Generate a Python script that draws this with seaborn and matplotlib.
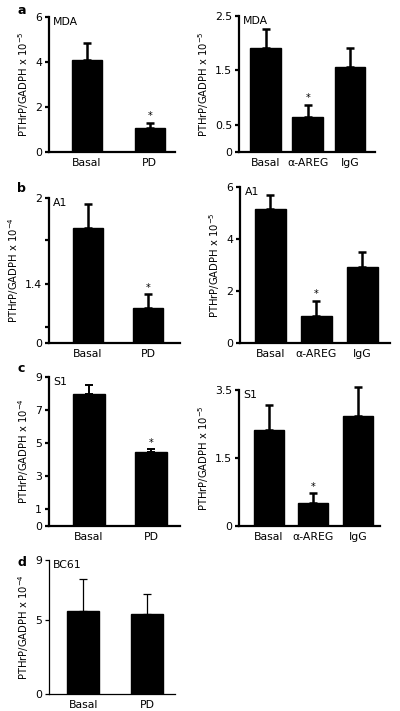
import numpy as np
import matplotlib
matplotlib.use("Agg")
import matplotlib.pyplot as plt
import seaborn as sns

sns.set_style("white")
plt.rcParams['font.family'] = ['DejaVu Sans']
plt.rcParams['mathtext.fontset'] = 'dejavusans'
for k in ['text.color', 'axes.labelcolor', 'xtick.color', 'ytick.color', 'axes.edgecolor']:
    plt.rcParams[k] = 'black'

# ---- data ----
a_left_cats = ["Basal", "PD"]
a_left_vals = [4.1, 1.05]
a_left_err = [0.75, 0.25]

a_right_cats = ["Basal", "α-AREG", "IgG"]
a_right_vals = [1.92, 0.65, 1.57]
a_right_err = [0.35, 0.22, 0.35]

b_left_cats = ["Basal", "PD"]
b_left_vals = [1.79, 0.83]
b_left_err = [0.17, 0.33]

b_right_cats = ["Basal", "α-AREG", "IgG"]
b_right_vals = [5.15, 1.05, 2.92]
b_right_err = [0.55, 0.57, 0.57]

c_left_cats = ["Basal", "PD"]
c_left_vals = [8.0, 4.5]
c_left_err = [0.5, 0.15]

c_right_cats = ["Basal", "α-AREG", "IgG"]
c_right_vals = [2.32, 0.51, 2.74]
c_right_err = [0.74, 0.22, 0.86]

d_cats = ["Basal", "PD"]
d_vals = [5.6, 5.4]
d_err = [2.1, 1.3]

W, H = 400, 711
fig = plt.figure(figsize=(4, 7.11), dpi=100)


def make_ax(x0, x1, ytop, ybot):
    return fig.add_axes([x0 / W, 1 - ybot / H, (x1 - x0) / W, (ybot - ytop) / H])


def panel(ax, cats, vals, errs, width, xlim, ylim, yticks, yticklabels, exp,
          tag, star=None, lw=1.6, elw=1.8, scale=None):
    if scale is not None:
        ax.set_yscale('function', functions=scale)
    sns.barplot(x=cats, y=vals, color="black", width=width, ax=ax,
                saturation=1, errorbar=None)
    for p in ax.patches:
        p.set_edgecolor("black")
    pos = np.arange(len(cats))
    ax.errorbar(pos, vals, yerr=[np.zeros(len(vals)), errs], fmt='none',
                ecolor='black', elinewidth=elw, capsize=3, capthick=elw,
                clip_on=False)
    ax.set_xlim(*xlim)
    ax.set_ylim(*ylim)
    ax.set_yticks(yticks)
    ax.set_yticklabels(yticklabels)
    ax.tick_params(axis='y', length=3, width=lw, direction='out', pad=2,
                   labelsize=7.8, left=True)
    ax.tick_params(axis='x', length=0, pad=4, labelsize=7.8)
    for s in ['top', 'right']:
        ax.spines[s].set_visible(False)
    for s in ['left', 'bottom']:
        ax.spines[s].set_linewidth(lw)
        ax.spines[s].set_color('black')
    ax.set_ylabel("PTHrP/GADPH x 10$^{-%d}$" % exp, fontsize=7.2, labelpad=3)
    ax.set_xlabel("")
    ax.text(0.03, 1.0, tag, transform=ax.transAxes, fontsize=7.8,
            va='top', ha='left')
    if star is not None:
        i = star
        ax.annotate("*", (pos[i], vals[i] + errs[i]), xytext=(0, 1),
                    textcoords='offset points', ha='center', va='bottom',
                    fontsize=7)


# a left
ax = make_ax(49, 175, 17, 152)
panel(ax, a_left_cats, a_left_vals, a_left_err, 0.48, (-0.6, 1.4), (0, 6),
      [0, 2, 4, 6], ['0', '2', '4', '6'], 5, "MDA", star=1)
# a right
ax = make_ax(239, 375, 16, 152)
panel(ax, a_right_cats, a_right_vals, a_right_err, 0.72, (-0.63, 2.6), (0, 2.5),
      [0, 0.5, 1.5, 2.5], ['0', '0.5', '1.5', '2.5'], 5, "MDA", star=1)

# b left (piecewise axis)
bx = [0, 1.4, 2.0]
bp = [0, 59, 145]
ax = make_ax(49, 180, 198, 343)
panel(ax, b_left_cats, b_left_vals, b_left_err, 0.5, (-0.65, 1.53), (0, 2),
      [0, 0.38, 1.4, 1.707, 2], ['0', '', '1.4', '', '2'], 4, "A1", star=1,
      scale=(lambda v: np.interp(v, bx, bp), lambda p: np.interp(p, bp, bx)))
# b right
ax = make_ax(240, 390, 187, 343)
panel(ax, b_right_cats, b_right_vals, b_right_err, 0.67, (-0.66, 2.6), (0, 6),
      [0, 2, 4, 6], ['0', '2', '4', '6'], 5, "A1", star=1)

# c left
ax = make_ax(49, 180, 377, 526)
panel(ax, c_left_cats, c_left_vals, c_left_err, 0.51, (-0.64, 1.46), (0, 9),
      [0, 1, 3, 5, 7, 9], ['0', '1', '3', '5', '7', '9'], 4, "S1", star=1,
      elw=1.4)
# c right (piecewise axis)
cx = [0, 1.5, 3.5, 4.5]
cp = [0, 68, 136, 170]
ax = make_ax(239, 380, 390, 526)
panel(ax, c_right_cats, c_right_vals, c_right_err, 0.67, (-0.66, 2.49), (0, 3.5),
      [0, 1.5, 3.5], ['0', '1.5', '3.5'], 5, "S1", star=1,
      scale=(lambda v: np.interp(v, cx, cp), lambda p: np.interp(p, cp, cx)))

# d
ax = make_ax(49, 175, 560, 694)
panel(ax, d_cats, d_vals, d_err, 0.5, (-0.53, 1.43), (0, 9),
      [0, 5, 9], ['0', '5', '9'], 4, "BC61", lw=0.9, elw=0.9)

# panel letters
for letter, y in [("a", 10), ("b", 188), ("c", 369), ("d", 563)]:
    fig.text(17 / W, 1 - y / H, letter, fontsize=9, fontweight='bold',
             va='center', ha='left')

fig.savefig("out.png", dpi=100)
